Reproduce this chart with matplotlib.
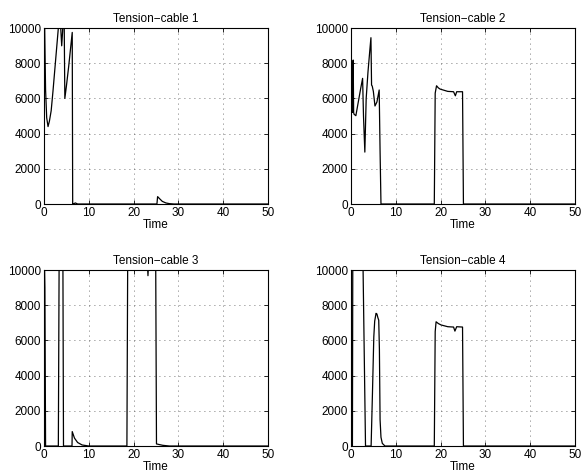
import numpy as np
import matplotlib
matplotlib.use("Agg")
import matplotlib.pyplot as plt

plt.rcParams['font.family'] = ['Liberation Sans', 'DejaVu Sans']

# cable 1
c1_t = [0.0, 0.15, 0.35, 0.6, 0.9, 1.2, 1.6, 2.0, 2.6, 3.2, 3.5, 3.65, 3.95, 4.15, 4.3,
        4.5, 4.65, 5.0, 5.5, 6.3, 6.4, 6.5, 7.0, 7.5, 25.2, 25.35, 25.8, 26.4,
        27.2, 28.0, 29.0, 50.0]
c1_v = [12000, 10000, 6500, 4900, 4400, 4700, 5300, 6400, 8200, 10000, 11000, 10400, 8990,
        9800, 11000, 10500, 6000, 6700, 7800, 9750, 0, 0, 60, 0, 0, 420, 300, 150,
        60, 20, 0, 0]

# cable 2
c2_t = [0.0, 0.15, 0.3, 0.4, 0.5, 0.6, 0.7, 1.1, 1.5, 2.2, 2.6, 2.8, 3.1, 3.4, 3.8, 4.2,
        4.46, 4.6, 4.75, 5.0, 5.36, 5.8, 6.3, 6.5, 6.7, 18.6, 18.8, 19.1, 19.5, 19.9, 21.6,
        22.9, 23.3, 23.6, 24.9, 25.1, 50.0]
c2_v = [5500, 7600, 5200, 7800, 8180, 5200, 5100, 5020, 5600, 6600, 7140, 5000, 2950, 6000,
        7500, 8700, 9450, 6760, 6700, 6400, 5570, 5800, 6480, 3000, 0, 0, 6300, 6720, 6600,
        6530, 6400, 6380, 6150, 6380, 6380, 0, 0]

# cable 3
c3_t = [0.0, 0.2, 0.35, 3.2, 3.4, 4.2, 4.35, 6.25, 6.3, 6.8, 7.5, 8.5, 10.0, 18.5, 18.7,
        22.8, 23.2, 23.6, 24.9, 25.1, 25.6, 26.5, 28.0, 50.0]
c3_v = [12000, 9000, 0, 0, 12000, 12000, 0, 0, 820, 450, 200, 60, 0, 0, 12000,
        12000, 9680, 12000, 12000, 120, 90, 40, 0, 0]

# cable 4
c4_t = [0.0, 0.33, 0.42, 2.6, 3.25, 4.5, 4.8, 5.1, 5.3, 5.6, 5.8, 6.0, 6.2, 6.35, 6.5,
        6.7, 7.0, 7.6, 18.6, 18.8, 19.0, 19.5, 20.1, 21.6, 22.9, 23.2, 23.6, 24.9, 25.1, 50.0]
c4_v = [0, 0, 12000, 12000, 0, 0, 3000, 6200, 7100, 7540, 7500, 7300, 7150, 5500, 1500,
        500, 150, 0, 0, 6500, 7060, 6960, 6880, 6780, 6760, 6530, 6780, 6760, 0, 0]

series = [(c1_t, c1_v), (c2_t, c2_v), (c3_t, c3_v), (c4_t, c4_v)]
titles = ['Tension\u2212cable 1', 'Tension\u2212cable 2', 'Tension\u2212cable 3', 'Tension\u2212cable 4']

fig = plt.figure(figsize=(5.82, 4.75), dpi=100)
pos = [[0.0756, 0.5705, 0.385, 0.3705], [0.603, 0.5705, 0.385, 0.3705],
       [0.0756, 0.061, 0.385, 0.3705], [0.603, 0.061, 0.385, 0.3705]]

for i in range(4):
    ax = fig.add_axes(pos[i])
    t, v = series[i]
    ax.plot(t, v, color='k', lw=0.9)
    ax.set_xlim(0, 50)
    ax.set_ylim(0, 10000)
    ax.set_xticks([0, 10, 20, 30, 40, 50])
    ax.set_yticks([0, 2000, 4000, 6000, 8000, 10000])
    ax.grid(True, linestyle=(0, (1, 5)), color='0.3', lw=0.6)
    ax.tick_params(direction='in', labelsize=8.5, length=3, width=0.6, pad=2,
                   top=True, right=True)
    for s in ax.spines.values():
        s.set_linewidth(0.8)
    ax.set_title(titles[i], fontsize=8.5, pad=4)
    ax.set_xlabel('Time', fontsize=8.5, labelpad=0)

fig.savefig('out.png', dpi=100)
